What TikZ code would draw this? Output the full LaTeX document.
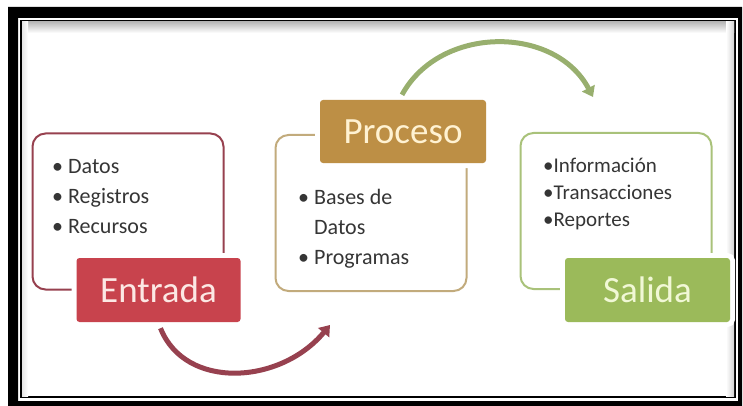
\documentclass[tikz,border=0pt]{standalone}
\usepackage{fontspec}
\setmainfont{Carlito}
\usetikzlibrary{arrows.meta,positioning}
\definecolor{rojo}{HTML}{C8434D}
\definecolor{rojob}{HTML}{97414F}
\definecolor{rojot}{HTML}{FCE8E4}
\definecolor{oro}{HTML}{BD8F45}
\definecolor{orob}{HTML}{C2AB7C}
\definecolor{orot}{HTML}{FFF2D2}
\definecolor{verde}{HTML}{9BBA5A}
\definecolor{verdeb}{HTML}{A9C27A}
\definecolor{verdet}{HTML}{F1F8D6}
\definecolor{tinta}{HTML}{353535}
\tikzset{
  caja/.style={draw=#1,line width=2pt,rounded corners=13pt,minimum width=191pt,minimum height=156pt},
  etiqueta/.style={fill=#1,rounded corners=3pt,minimum width=164pt,minimum height=64pt,
    preaction={draw=white,line width=10pt},font=\fontsize{37}{40}\selectfont},
  lista/.style={tinta,align=left,anchor=west,inner sep=0pt,font=\fontsize{22}{30}\selectfont},
  flecha/.style={-{Triangle[length=10pt,width=14pt]},#1,line width=5pt},
}

\begin{document}
\begin{tikzpicture}[x=1pt,y=-1pt]
  \useasboundingbox (0,0) rectangle (743,406);
  % marco
  \fill[black,even odd rule] (8,7) rectangle (742,406) (18,18) rectangle (738,401);
  \draw[black,line width=2pt] (21,21) rectangle (735,397);
  \shade[top color=gray!55,bottom color=white] (22,22) rectangle (734,33);
  \shade[left color=white,right color=gray!35] (726,22) rectangle (734,396);
  \shade[left color=gray!20,right color=white] (22,22) rectangle (28,396);
  % cajas
  \node[caja=rojob] (ent) at (128,211.5) {};
  \node[caja=orob] (pro) at (371,213) {};
  \node[caja=verdeb] (sal) at (616,211) {};
  \node[lista] (entl) at (52,197) {•\hspace{5pt}Datos\\•\hspace{5pt}Registros\\•\hspace{5pt}Recursos};
  \node[lista] (prol) at (298,229) {•\hspace{5pt}Bases de\\\phantom{•\hspace{5pt}}Datos\\•\hspace{5pt}Programas};
  \node[lista,font=\fontsize{21}{27}\selectfont] (sall) at (543,194) {•Información\\•Transacciones\\•Reportes};
  % etiquetas
  \node[etiqueta=rojo,text=rojot] (entrada) at (158.5,290) {Entrada};
  \node[etiqueta=oro,text=orot,minimum height=63pt,minimum width=166pt] (proceso) at (403,131.5) {Proceso};
  \node[etiqueta=verde,text=verdet,minimum width=165pt] (salida) at (647.5,290) {Salida};
  % flechas
  \coordinate (fr) at (330,325);
  \coordinate (fv) at (593,97);
  \draw[flecha=rojob] ([xshift=2pt,yshift=-6pt]entrada.south) .. controls (185,390) and (280,385) .. (fr);
  \draw[flecha=verdeb!90!black] ([xshift=-1pt,yshift=5pt]proceso.north) .. controls (440,25) and (555,25) .. (fv);
\end{tikzpicture}
\end{document}
